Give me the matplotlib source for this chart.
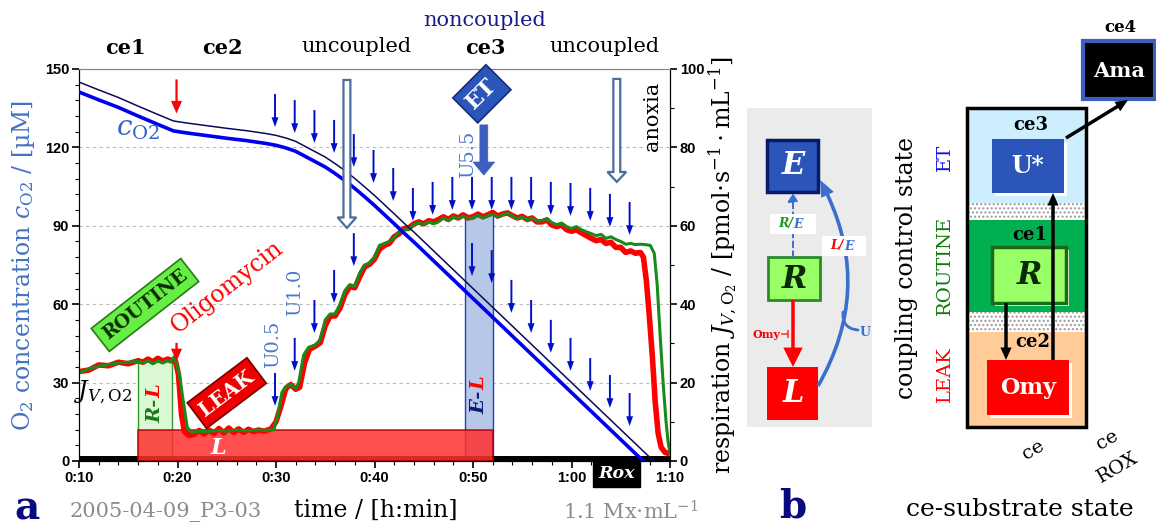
import numpy as np
import matplotlib.pyplot as plt
from matplotlib.patches import Rectangle, FancyArrow, FancyArrowPatch

plt.rcParams['font.family'] = ['DejaVu Serif', 'DejaVu Sans']
plt.rcParams['mathtext.fontset'] = 'dejavuserif'

# ---- data (time in min) ----
t_o2 = [10, 12, 14, 16, 18, 19.6, 21, 23, 25, 27, 29, 30, 31, 32, 33, 34, 35, 36,
        37, 38, 39, 40, 41, 42, 43, 44, 45, 46, 47, 48, 49, 50, 51, 52, 53, 54, 55,
        56, 57, 58, 59, 60, 61, 62, 63, 64, 65, 66, 67, 67.3]
o2_conc = [141.2, 138.2, 135.3, 132.0, 128.8, 126.3, 125.5, 124.5, 123.5, 122.6, 121.5,
           120.8, 119.8, 118.5, 116.5, 114.5, 112.5, 110.0, 107.3, 104.3, 101.1, 97.8,
           94.3, 90.8, 87.2, 83.8, 80.2, 76.6, 73.0, 69.4, 65.8, 62.2, 58.6, 55.0, 51.4,
           47.8, 44.2, 40.6, 37.0, 33.4, 29.8, 26.2, 22.6, 19.0, 15.4, 11.8, 8.2, 4.6,
           1.0, 0.0]
t_o2_raw = [10, 12, 14, 16, 18, 19.6, 21, 23, 25, 27, 29, 30, 31, 32, 33, 34, 35, 36,
            37, 38, 39, 40, 41, 42, 43, 44, 45, 46, 47, 48, 49, 50, 51, 52, 53, 54, 55,
            56, 57, 58, 59, 60, 61, 62, 63, 64, 65, 66, 67, 68, 68.4]
o2_raw = [145.0, 142.0, 139.1, 135.8, 132.6, 130.1, 129.3, 128.3, 127.3, 126.4, 125.3,
          124.6, 123.6, 122.3, 120.3, 118.3, 116.3, 113.8, 111.1, 108.1, 104.9, 101.6,
          98.1, 94.6, 91.0, 87.6, 84.0, 80.4, 76.8, 73.2, 69.6, 66.0, 62.4, 58.8, 55.2,
          51.6, 48.0, 44.4, 40.8, 37.2, 33.6, 30.0, 26.4, 22.8, 19.2, 15.6, 12.0, 8.4,
          4.8, 1.2, 0.0]

t_flux_g = [10, 11, 12, 13, 14, 15, 16, 16.5, 17, 17.5, 18, 18.5, 19, 19.3, 19.7, 20.2,
            20.6, 21.0, 21.5, 22, 23, 24, 25, 26, 27, 28, 29, 29.8, 30.2, 30.6, 31, 31.5,
            32, 32.3, 32.8, 33.3, 34, 34.5, 35, 35.5, 36, 36.5, 37, 37.5, 38, 38.5, 39,
            39.5, 40, 40.5, 41, 41.5, 42, 42.5, 43, 43.5, 44, 44.5, 45, 45.5, 46, 46.5,
            47, 47.5, 48, 48.5, 49, 49.5, 50, 50.5, 51, 51.5, 52, 52.5, 53, 53.5, 54,
            54.5, 55, 55.5, 56, 56.5, 57, 57.5, 58, 58.5, 59, 59.5, 60, 60.5, 61, 61.5,
            62, 62.5, 63, 63.5, 64, 64.5, 65, 65.5, 66, 66.5, 67, 67.5, 68, 68.4, 68.7,
            69, 69.3, 69.6, 69.8, 70]
flux_g = [22.5, 23.5, 24.2, 24.6, 25.0, 25.2, 25.4, 25.0, 25.6, 24.8, 25.5, 25.0, 25.6,
          25.2, 26.7, 22.0, 15.0, 8.5, 7.2, 7.6, 7.5, 7.8, 7.6, 7.9, 7.7, 7.9, 7.8, 8.0,
          12.0, 17.5, 19.0, 19.5, 18.5, 20.0, 27.0, 29.0, 29.6, 31.0, 36.0, 37.5, 37.5,
          40.0, 43.5, 45.0, 44.5, 48.0, 50.0, 50.5, 52.0, 55.0, 55.5, 56.0, 57.0, 58.5,
          59.0, 59.0, 60.3, 60.8, 60.3, 61.0, 60.5, 61.0, 62.0, 61.3, 62.3, 61.8, 62.5,
          61.8, 62.0, 62.7, 62.0, 62.5, 63.0, 62.2, 62.8, 63.2, 62.5, 61.8, 62.2, 61.5,
          62.0, 61.2, 61.3, 61.8, 60.8, 60.3, 60.7, 59.8, 59.3, 59.8, 59.0, 58.5, 58.0,
          57.5, 57.8, 56.8, 57.2, 56.5, 56.0, 55.3, 55.5, 55.2, 55.3, 55.2, 55.0, 53.0,
          45.0, 32.0, 20.0, 10.0, 5.0, 2.0]

t_flux_r = [10, 11, 12, 13, 14, 15, 16, 16.5, 17, 17.5, 18, 18.5, 19, 19.5, 19.8, 20.1,
            20.4, 20.7, 21.2, 21.7, 22.2, 22.7, 23.2, 23.7, 24.2, 24.7, 25.2, 25.7, 26.2,
            26.7, 27.2, 27.7, 28.2, 28.8, 29.5, 30, 30.5, 31, 31.5, 32, 32.4, 32.9, 33.4,
            34, 34.5, 35, 35.5, 36, 36.5, 37, 37.5, 38, 38.5, 39, 39.5, 40, 40.5, 41,
            41.5, 42, 42.5, 43, 43.5, 44, 44.5, 45, 45.5, 46, 46.5, 47, 47.5, 48, 48.5,
            49, 49.5, 50, 50.5, 51, 51.5, 52, 52.5, 53, 53.5, 54, 54.5, 55, 55.5, 56,
            56.5, 57, 57.5, 58, 58.5, 59, 59.5, 60, 60.5, 61, 61.5, 62, 62.5, 63, 63.5,
            64, 64.5, 65, 65.5, 66, 66.5, 67, 67.3, 67.6, 67.9, 68.2, 68.5, 68.8, 69.1,
            69.5, 70]
flux_r = [22.8, 23.2, 24.5, 24.3, 25.2, 24.8, 25.6, 25.2, 26.0, 25.3, 26.2, 25.5, 26.0,
          25.6, 25.5, 22.0, 12.0, 7.5, 6.5, 6.8, 7.8, 6.9, 7.9, 7.0, 8.3, 7.2, 8.4, 7.3,
          8.2, 7.3, 8.1, 7.5, 7.9, 7.6, 8.2, 10.0, 14.0, 18.5, 19.5, 18.3, 18.8, 25.0,
          28.5, 29.3, 30.2, 34.5, 37.0, 37.0, 39.0, 42.5, 44.5, 44.2, 47.0, 49.5, 50.2,
          51.5, 54.0, 55.0, 55.5, 57.2, 58.0, 59.3, 59.5, 60.5, 61.0, 60.5, 61.3, 61.0,
          61.6, 62.3, 61.6, 62.5, 62.0, 62.8, 62.0, 62.3, 63.0, 62.3, 62.8, 63.4, 62.5,
          63.0, 63.3, 62.6, 62.0, 62.4, 61.6, 62.0, 61.0, 61.0, 61.5, 60.2, 59.8, 60.2,
          59.0, 58.6, 59.0, 58.2, 57.5, 56.8, 56.2, 56.5, 55.5, 55.8, 54.5, 54.5, 53.2,
          53.6, 53.0, 53.2, 52.0, 46.0, 37.0, 27.0, 15.0, 7.0, 3.5, 2.2, 1.8]

# titration steps (U) and the arrows marking them
step_t_upper = [29.9, 31.9, 33.9, 35.9, 37.9, 39.9, 41.9, 43.9, 45.9, 47.9, 49.9, 51.9,
                53.9, 55.9, 57.9, 59.9, 61.9, 63.9, 65.9]
step_top_upper = [140.4, 138.1, 134.3, 130.5, 125.1, 119.0, 112.1, 104.5, 106.8, 108.7,
                  108.7, 108.7, 108.7, 108.7, 106.8, 106.4, 104.5, 102.2, 99.1]
step_t_lower = [29.9, 31.9, 33.9, 35.9, 37.9, 49.9, 51.9, 53.9, 55.9, 57.9, 59.9, 61.9,
                63.9, 65.9]
step_top_lower = [33.7, 47.1, 61.6, 73.1, 87.2, 83.4, 80.7, 69.3, 61.6, 54.0, 47.1, 39.4,
                  32.9, 26.0]
arrow_len = 12.6

leak_level = 7.9
routine_level = 25.5
et_level = 62.8

xticks = [10, 20, 30, 40, 50, 60, 70]
xtick_labels = ['0:10', '0:20', '0:30', '0:40', '0:50', '1:00', '1:10']

W, H = 1156, 527
fig = plt.figure(figsize=(W / 100, H / 100), dpi=100)
ax = fig.add_axes([79 / W, 66 / H, 591 / W, 392 / H])
ax2 = ax.twinx()
ax.set_zorder(ax2.get_zorder() + 1)
ax.patch.set_visible(False)

tickfont = dict(fontfamily='Liberation Sans', fontweight='bold', fontsize=10.5)
ax.set_xlim(10, 70)
ax.set_ylim(0, 150)
ax2.set_ylim(0, 100)
ax.set_xticks(xticks, xtick_labels, **tickfont)
ax.set_xticks(np.arange(10, 71, 2), minor=True)
ax.set_yticks([0, 30, 60, 90, 120, 150], ['0', '30', '60', '90', '120', '150'], **tickfont)
ax.set_yticks(np.arange(0, 151, 6), minor=True)
ax2.set_yticks([0, 20, 40, 60, 80, 100], ['0', '20', '40', '60', '80', '100'], **tickfont)
ax2.set_yticks(np.arange(0, 101, 10), minor=True)
for a in (ax, ax2):
    a.tick_params(which='major', length=5, width=1.2, pad=2)
    a.tick_params(which='minor', length=3, width=0.8)
ax.spines['top'].set_color('#888888')
ax2.spines['top'].set_color('#888888')
ax2.set_axisbelow(True)
ax2.yaxis.grid(True, ls=(0, (3, 3)), color='#bbbbbb', lw=0.8)

# bands
ax2.add_patch(Rectangle((16, 0), 3.45, routine_level, fc='#dbf7d3', ec='#2e9a2e', lw=1, zorder=1.5))
ax2.add_patch(Rectangle((49.2, 0), 2.8, et_level, fc='#b7c7e8', ec='#2040c0', lw=1, zorder=1.5))
ax2.fill_between([10, 70], 0, 1.2, color='black', lw=0, zorder=1.6)
ax2.add_patch(Rectangle((16, 0), 36, leak_level, fc='#ff3030', alpha=0.85, ec='#b00000', lw=1.2, zorder=2))

ax2.plot(t_flux_r, flux_r, color='#ff0000', lw=4, zorder=3, solid_capstyle='butt')
ax2.plot(t_flux_g, flux_g, color='#1a8a1a', lw=2.2, zorder=3.1)

ax.plot(t_o2_raw, o2_raw, color='#0a0a5a', lw=1.1, zorder=3)
ax.plot(t_o2, o2_conc, color='#0000ee', lw=2.6, zorder=3)

astyle = 'Simple,head_length=7,head_width=5,tail_width=1.4'
for tt, top in zip(step_t_upper + step_t_lower, step_top_upper + step_top_lower):
    ax.add_patch(FancyArrowPatch((tt, top), (tt, top - arrow_len), arrowstyle=astyle,
                                 color='#0010c8', lw=0, shrinkA=0, shrinkB=0, zorder=4))
# oligomycin arrows
for top, length in [(146, 13), (45.2, 7)]:
    ax.add_patch(FancyArrowPatch((19.9, top), (19.9, top - length),
                                 arrowstyle='Simple,head_length=9,head_width=8,tail_width=1.6',
                                 color='#ff0000', lw=0, shrinkA=0, shrinkB=0, zorder=4))

# hollow uncoupler arrows and ET arrow
ax.add_patch(FancyArrow(37.2, 145.8, 0, -56.6, width=0.7, head_width=1.9, head_length=4,
                        length_includes_head=True, fc='white', ec='#4d6d99', lw=1.6, zorder=4))
ax.add_patch(FancyArrow(64.6, 146.2, 0, -39.4, width=0.7, head_width=1.9, head_length=3.8,
                        length_includes_head=True, fc='white', ec='#4d6d99', lw=1.6, zorder=4))
ax.add_patch(FancyArrow(51.1, 128.6, 0, -19.2, width=0.8, head_width=2.2, head_length=5.0,
                        length_includes_head=True, fc='#3a5fbf', ec='#3a5fbf', lw=0.5, zorder=4))

# labels inside panel a
ax.text(16.0, 127.4, r'$c_{\mathrm{O2}}$', color='#3366cc', fontsize=20, ha='center', va='center')
ax.text(12.4, 26.4, r'$J_{V,\mathrm{O2}}$', color='black', fontsize=17, ha='center', va='center')
ax.text(68.2, 132, 'anoxia', rotation=90, fontsize=15, ha='center', va='center')
ucol = '#4a7acc'
ax.text(29.7, 44.8, 'U0.5', rotation=90, color=ucol, fontsize=14, ha='center', va='center')
ax.text(31.9, 64.7, 'U1.0', rotation=90, color=ucol, fontsize=14, ha='center', va='center')
ax.text(49.5, 117.5, 'U5.5', rotation=90, color=ucol, fontsize=14, ha='center', va='center')
ax.text(16.7, 59.7, 'ROUTINE', rotation=38, color='#0a2a00', fontsize=13.5, fontweight='bold',
        ha='center', va='center', zorder=5,
        bbox=dict(boxstyle='square,pad=0.3', fc='#66ee44', ec='#2a7a1a', lw=1.2))
ax.text(25.0, 26.0, 'LEAK', rotation=37, color='white', fontsize=14.5, fontweight='bold',
        ha='center', va='center', zorder=5,
        bbox=dict(boxstyle='square,pad=0.3', fc='#ee0000', ec='#7a0000', lw=1.2))
ax.text(50.9, 140.5, 'ET', rotation=45, color='white', fontsize=16, fontweight='bold',
        ha='center', va='center', zorder=5,
        bbox=dict(boxstyle='square,pad=0.3', fc='#2b55b8', ec='#1a2a80', lw=1.2))
ax.text(25.0, 66.5, 'Oligomycin', rotation=38, color='#ff0000', fontsize=17,
        ha='center', va='center', zorder=5)
ax.text(24.1, 5.0, 'L', color='white', fontsize=16, fontweight='bold', style='italic',
        ha='center', va='center', zorder=5)
ax.text(17.8, 24.0, 'R-', rotation=90, color='#1a7a1a', fontsize=14, fontweight='bold',
        style='italic', ha='center', va='top', zorder=5)
ax.text(17.8, 24.0, 'L', rotation=90, color='#ff0000', fontsize=14, fontweight='bold',
        style='italic', ha='center', va='bottom', zorder=5)
ax.text(50.7, 27.0, 'E-', rotation=90, color='#0a1a7a', fontsize=14, fontweight='bold',
        style='italic', ha='center', va='top', zorder=5)
ax.text(50.7, 27.0, 'L', rotation=90, color='#ff0000', fontsize=14, fontweight='bold',
        style='italic', ha='center', va='bottom', zorder=5)
ax.text(64.6, -0.01, 'Rox', transform=ax.get_xaxis_transform(), color='white', fontsize=12.5,
        fontweight='bold', style='italic', ha='center', va='top', zorder=10,
        bbox=dict(boxstyle='square,pad=0.3', fc='black', ec='black'), clip_on=False)

ax.set_ylabel(r'O$_2$ concentration $c_{\mathrm{O2}}$ / [µM]', color='#4472c4', fontsize=17, labelpad=6)
ax2.set_ylabel(r'respiration $J_{V,\mathrm{O_2}}$ / [pmol$\cdot$s$^{-1}\cdot$mL$^{-1}$]',
               fontsize=17, labelpad=2)

# ---- overlay in pixel coordinates: outside texts and panel b ----
ov = fig.add_axes([0, 0, 1, 1], zorder=20)
ov.set_xlim(0, W)
ov.set_ylim(H, 0)
ov.axis('off')

ov.text(125, 48, 'ce1', fontsize=15, fontweight='bold', ha='center', va='center')
ov.text(222, 48, 'ce2', fontsize=15, fontweight='bold', ha='center', va='center')
ov.text(357, 47, 'uncoupled', fontsize=15, ha='center', va='center')
ov.text(485, 20, 'noncoupled', fontsize=15, color='#1a1a8a', ha='center', va='center')
ov.text(485, 48, 'ce3', fontsize=15, fontweight='bold', ha='center', va='center')
ov.text(605, 47, 'uncoupled', fontsize=15, ha='center', va='center')

ov.text(27, 508, 'a', fontsize=28, fontweight='bold', color='#0a0a80', ha='center', va='center')
ov.text(166, 512, '2005-04-09_P3-03', fontsize=15, color='#8c8c8c', ha='center', va='center')
ov.text(376, 510, 'time / [h:min]', fontsize=17, ha='center', va='center')
ov.text(631, 512, r'1.1 Mx$\cdot$mL$^{-1}$', fontsize=15, color='#8c8c8c', ha='center', va='center')

# panel b, left: coupling states
ov.add_patch(Rectangle((747, 108), 125, 319, fc='#ebebeb', ec='none'))
blue = '#2b55b8'
ov.add_patch(Rectangle((767, 140), 51, 52, fc=blue, ec='#0a1a6a', lw=2.5))
ov.text(793, 166, 'E', color='white', fontsize=22, fontweight='bold', style='italic', ha='center', va='center')
ov.add_patch(Rectangle((768, 257), 52, 43, fc='#99ff66', ec='#2a8a2a', lw=2))
ov.text(794, 279, 'R', color='#0a2a0a', fontsize=22, fontweight='bold', style='italic', ha='center', va='center')
ov.add_patch(Rectangle((767, 367), 51, 53, fc='#ff0000', ec='none'))
ov.text(793, 394, 'L', color='white', fontsize=22, fontweight='bold', style='italic', ha='center', va='center')
ov.add_patch(FancyArrowPatch((793, 257), (793, 193), arrowstyle='-|>,head_length=5,head_width=3',
                             color='#3a6fd0', lw=1.4, ls=(0, (3, 2)), shrinkA=0, shrinkB=0))
ov.add_patch(FancyArrowPatch((793, 300), (793, 367), arrowstyle='Simple,head_length=14,head_width=14,tail_width=2.5',
                             color='#ff0000', lw=0, shrinkA=0, shrinkB=0))
ov.add_patch(FancyArrowPatch((818, 386), (820, 180), connectionstyle='arc3,rad=0.28',
                             arrowstyle='Simple,head_length=12,head_width=10,tail_width=2.6',
                             color='#3a6fd0', lw=0, shrinkA=0, shrinkB=0))
ov.add_patch(FancyArrowPatch((843, 312), (858, 330), connectionstyle='arc3,rad=0.5',
                             arrowstyle='-', color='#3a6fd0', lw=2, shrinkA=0, shrinkB=0))
ov.text(865, 332, 'U', color='#3a6fd0', fontsize=9, fontweight='bold', ha='center', va='center')
ov.add_patch(Rectangle((770, 214), 46, 20, fc='white', ec='none'))
ov.text(793, 224, 'R/', color='#1a9a1a', fontsize=9, fontweight='bold', style='italic', ha='right', va='center')
ov.text(793, 224, 'E', color='#3a6fd0', fontsize=9, fontweight='bold', style='italic', ha='left', va='center')
ov.add_patch(Rectangle((822, 236), 44, 20, fc='white', ec='none'))
ov.text(844, 246, 'L/', color='#ff0000', fontsize=9, fontweight='bold', style='italic', ha='right', va='center')
ov.text(844, 246, 'E', color='#3a6fd0', fontsize=9, fontweight='bold', style='italic', ha='left', va='center')
ov.text(790, 335, 'Omy⊣', color='#ff0000', fontsize=8, fontweight='bold', ha='right', va='center')

ov.text(907, 268, 'coupling control state', rotation=90, fontsize=17, ha='center', va='center')
ov.text(945, 157, 'ET', rotation=90, fontsize=14, color='#1010ee', ha='center', va='center')
ov.text(945, 265, 'ROUTINE', rotation=90, fontsize=14, color='#0a7a0a', ha='center', va='center')
ov.text(945, 374, 'LEAK', rotation=90, fontsize=14, color='#ff0000', ha='center', va='center')

# panel b, right: ce states
ov.add_patch(Rectangle((967, 108), 119, 95, fc='#cceeff', ec='none'))
ov.add_patch(Rectangle((967, 203), 119, 17, fc='white', ec='#999999', lw=0, hatch='....'))
ov.add_patch(Rectangle((967, 220), 119, 92, fc='#00b050', ec='none'))
ov.add_patch(Rectangle((967, 312), 119, 20, fc='white', ec='#999999', lw=0, hatch='....'))
ov.add_patch(Rectangle((967, 332), 119, 95, fc='#ffcc99', ec='none'))
ov.add_patch(Rectangle((967, 108), 119, 319, fc='none', ec='black', lw=2.5))

ov.add_patch(Rectangle((995, 142), 72, 54, fc='white', ec='none'))
ov.add_patch(Rectangle((992, 139), 72, 54, fc=blue, ec='none'))
ov.text(1028, 166, 'U*', color='white', fontsize=17, fontweight='bold', ha='center', va='center')
ov.text(1031, 125, 'ce3', fontsize=13, fontweight='bold', ha='center', va='center')
ov.add_patch(Rectangle((995, 250), 74, 56, fc='white', ec='none'))
ov.add_patch(Rectangle((992, 247), 74, 56, fc='#99ff66', ec='#1a6a1a', lw=2.5))
ov.text(1029, 276, 'R', color='#0a2a0a', fontsize=22, fontweight='bold', style='italic', ha='center', va='center')
ov.text(1030, 235, 'ce1', fontsize=13, fontweight='bold', ha='center', va='center')
ov.add_patch(Rectangle((990, 363), 82, 55, fc='white', ec='none'))
ov.add_patch(Rectangle((987, 360), 82, 55, fc='#ff0000', ec='none'))
ov.text(1028, 388, 'Omy', color='white', fontsize=16, fontweight='bold', ha='center', va='center')
ov.text(1033, 342, 'ce2', fontsize=13, fontweight='bold', ha='center', va='center')
karrow = 'Simple,head_length=9,head_width=8,tail_width=2.5'
ov.add_patch(FancyArrowPatch((1053, 360), (1053, 193), arrowstyle=karrow, color='black', lw=0, shrinkA=0, shrinkB=0))
ov.add_patch(FancyArrowPatch((1006, 303), (1006, 360), arrowstyle=karrow, color='black', lw=0, shrinkA=0, shrinkB=0))
ov.add_patch(Rectangle((1083, 41), 72, 58, fc='black', ec='#3a5fbf', lw=3))
ov.text(1119, 71, 'Ama', color='white', fontsize=15, fontweight='bold', ha='center', va='center')
ov.text(1120, 28, 'ce4', fontsize=12, fontweight='bold', ha='center', va='center')
ov.add_patch(FancyArrowPatch((1066, 138), (1128, 100), arrowstyle=karrow, color='black', lw=0, shrinkA=0, shrinkB=0))

ov.text(1033, 450, 'ce', rotation=30, fontsize=14, ha='center', va='center')
ov.text(1107, 440, 'ce', rotation=30, fontsize=14, ha='center', va='center')
ov.text(1118, 468, 'ROX', rotation=30, fontsize=14, ha='center', va='center')
ov.text(1020, 510, 'ce-substrate state', fontsize=18, ha='center', va='center')
ov.text(793, 506, 'b', fontsize=28, fontweight='bold', color='#0a0a80', ha='center', va='center')

fig.savefig('out.png', dpi=100)
